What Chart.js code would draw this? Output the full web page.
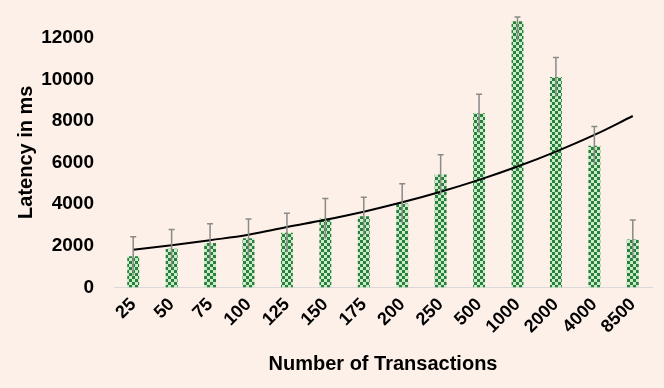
<!DOCTYPE html>
<html>
<head>
<meta charset="utf-8">
<script src="https://cdn.jsdelivr.net/npm/chart.js@4"></script>
<style>
  body { margin: 0; background: #fcf0e8; }
  #wrap { width: 664px; height: 388px; }
</style>
</head>
<body>
<div id="wrap"><canvas id="latencyChart" width="664" height="388"></canvas></div>
<script>
// values
const transactions = ['25', '50', '75', '100', '125', '150', '175', '200', '250', '500', '1000', '2000', '4000', '8500'];
const latency = [1500, 1860, 2140, 2360, 2630, 3310, 3420, 4030, 5430, 8370, 12790, 10110, 6810, 2300];
const latencyErr = [930, 920, 915, 930, 930, 960, 920, 950, 950, 920, 920, 940, 930, 940];
const trend = [1815, 2030, 2270, 2530, 2900, 3250, 3640, 4090, 4600, 5170, 5810, 6530, 7330, 8240];
const yTicks = [0, 2000, 4000, 6000, 8000, 10000, 12000];

// checkered green fill for the bars
function checkerPattern() {
    const c = document.createElement('canvas');
    c.width = 6;
    c.height = 6;
    const g = c.getContext('2d');
    g.fillStyle = '#c8ebc8';
    g.fillRect(0, 0, 6, 6);
    g.fillStyle = '#2b7f3c';
    g.fillRect(0, 0, 3, 3);
    g.fillRect(3, 3, 3, 3);
    return g.createPattern(c, 'repeat');
}

// error bars on top of the bars
const errorBars = {
    id: 'errorBars',
    afterDatasetsDraw(chart) {
        const ctx = chart.ctx;
        const y = chart.scales.y;
        const area = chart.chartArea;
        const meta = chart.getDatasetMeta(0);
        ctx.save();
        ctx.strokeStyle = '#8a8a8a';
        ctx.lineWidth = 1.5;
        meta.data.forEach((bar, i) => {
            const top = Math.max(y.getPixelForValue(latency[i] + latencyErr[i]), area.top);
            const bottom = y.getPixelForValue(latency[i] - latencyErr[i]);
            ctx.beginPath();
            ctx.moveTo(bar.x, top);
            ctx.lineTo(bar.x, bottom);
            ctx.moveTo(bar.x - 3, top);
            ctx.lineTo(bar.x + 3, top);
            ctx.stroke();
        });
        ctx.restore();
    }
};

const ctx = document.getElementById('latencyChart').getContext('2d');
new Chart(ctx, {
    type: 'bar',
    data: {
        labels: transactions,
        datasets: [{
            label: 'Latency',
            data: latency,
            backgroundColor: checkerPattern(),
            barPercentage: 0.31,
            categoryPercentage: 1,
            order: 2
        }, {
            type: 'line',
            label: 'Trend',
            data: trend,
            borderColor: '#000000',
            borderWidth: 2,
            pointRadius: 0,
            tension: 0.4,
            fill: false,
            order: 1
        }]
    },
    options: {
        responsive: false,
        animation: false,
        layout: { padding: { top: 17, right: 12, bottom: 12, left: 14 } },
        plugins: {
            legend: { display: false },
            tooltip: { enabled: false }
        },
        scales: {
            x: {
                grid: { display: false, drawTicks: false },
                border: { display: true, color: '#d9d9d9', width: 1 },
                ticks: {
                    color: '#000',
                    font: { family: 'Liberation Sans', size: 18, weight: 'bold' },
                    minRotation: 45,
                    maxRotation: 45,
                    padding: 6.5
                },
                title: {
                    display: true,
                    text: 'Number of Transactions',
                    color: '#000',
                    font: { family: 'Liberation Sans', size: 20, weight: 'bold' },
                    padding: { top: 8, bottom: 0 }
                }
            },
            y: {
                min: 0,
                max: 13000,
                grid: { display: false, drawTicks: false },
                border: { display: false },
                afterBuildTicks(scale) {
                    scale.ticks = yTicks.map(v => ({ value: v }));
                },
                afterFit(scale) {
                    scale.width = 100;
                    scale.paddingTop = 0;
                    scale.paddingBottom = 0;
                },
                ticks: {
                    color: '#000',
                    font: { family: 'Liberation Sans', size: 19, weight: 'bold' },
                    padding: 20,
                    callback: v => String(v)
                },
                title: {
                    display: true,
                    text: 'Latency in ms',
                    color: '#000',
                    font: { family: 'Liberation Sans', size: 20, weight: 'bold' },
                    padding: { top: 0, bottom: 4 }
                }
            }
        }
    },
    plugins: [errorBars]
});
</script>
</body>
</html>
